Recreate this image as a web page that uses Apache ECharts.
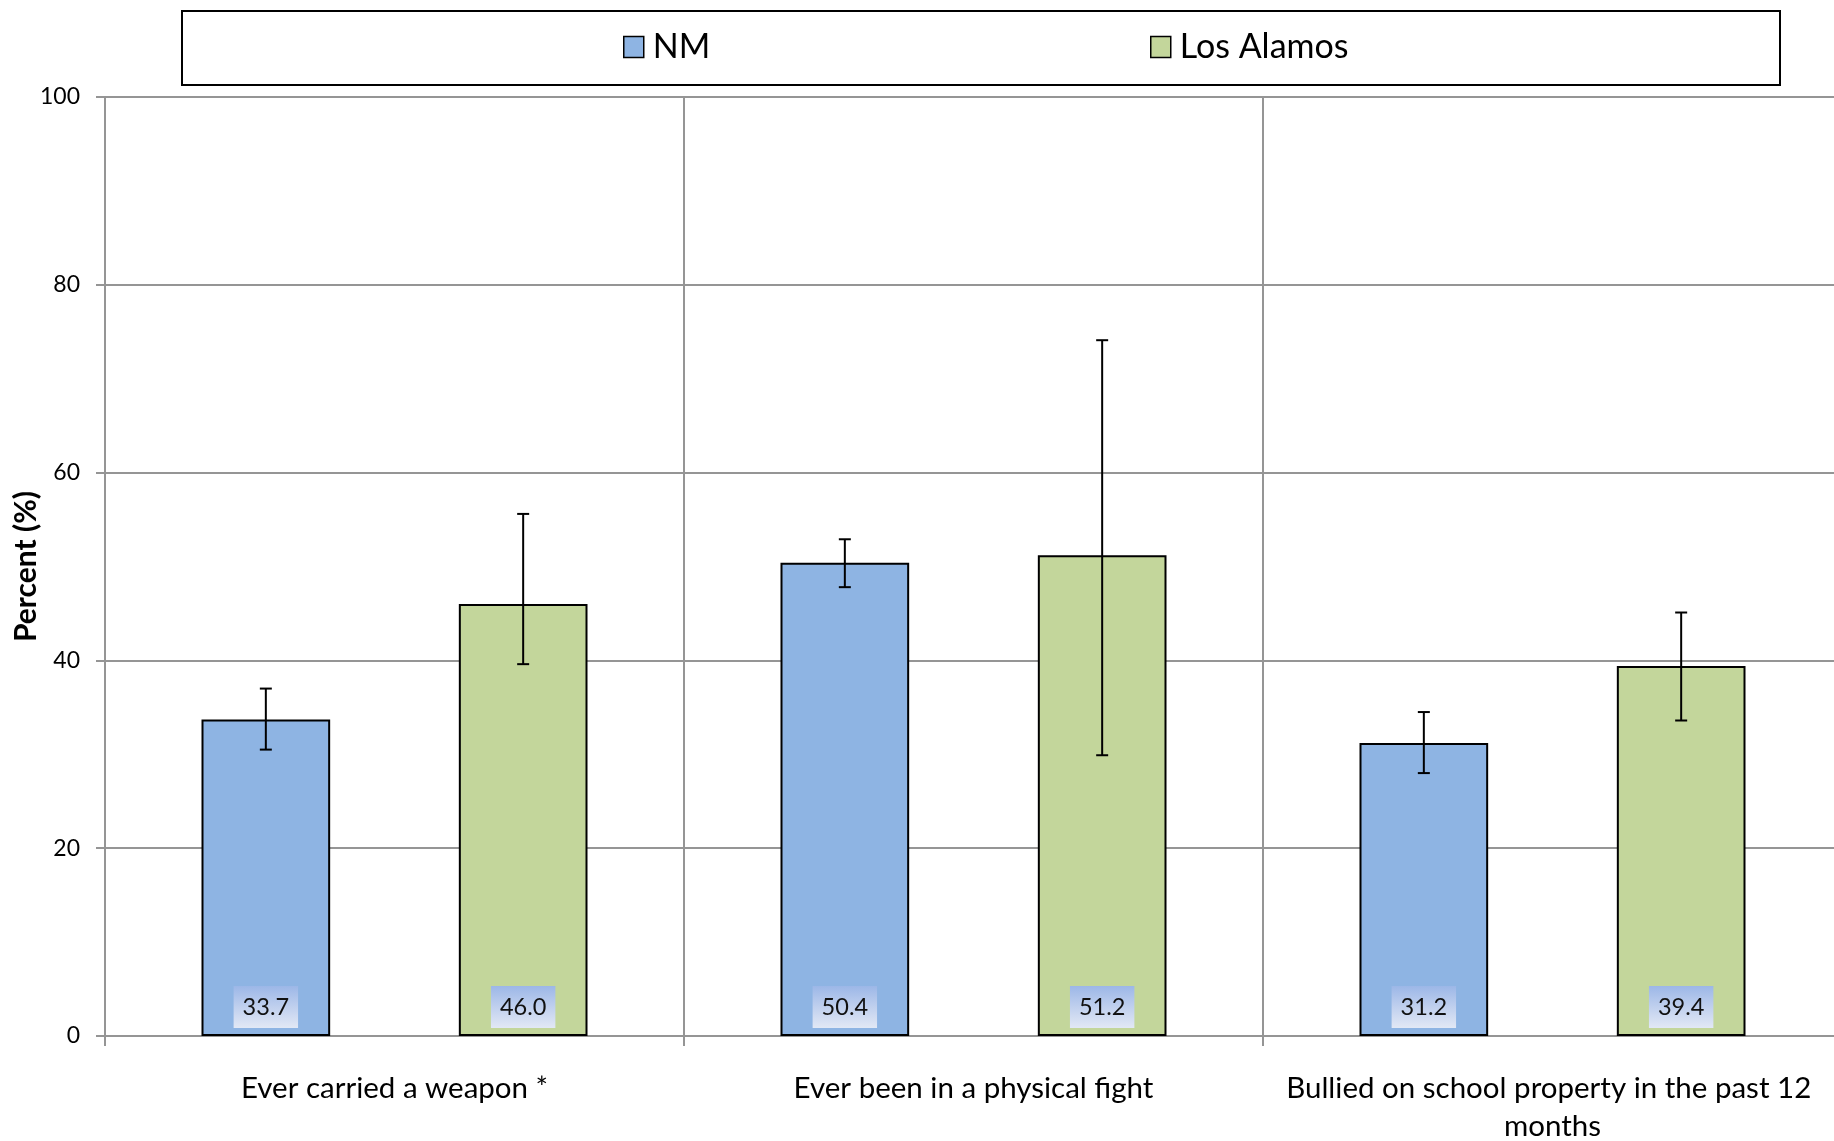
<!DOCTYPE html>
<html>
<head>
<meta charset="utf-8">
<script src="https://cdn.jsdelivr.net/npm/echarts@6/dist/echarts.min.js"></script>
<style>
  html, body { margin: 0; padding: 0; background: #fff; }
  #chart { width: 1834px; height: 1141px; }
</style>
</head>
<body>
<div id="chart"></div>
<script>
const categories = ['Ever carried a weapon *', 'Ever been in a physical fight', 'Bullied on school property in the past 12 months'];
const seriesNames = ['NM', 'Los Alamos'];
const nmValues = [33.7, 50.4, 31.2];
const laValues = [46.0, 51.2, 39.4];
const nmLow = [30.5, 47.8, 28.0];
const nmHigh = [37.0, 52.9, 34.5];
const laLow = [39.6, 29.9, 33.6];
const laHigh = [55.6, 74.1, 45.1];
const yTicks = [0, 20, 40, 60, 80, 100];

const FONT = 'Lato';
const GRID = '#959595';
const BAR_FRAC = 2 / 9;

const chart = echarts.init(document.getElementById('chart'), null, { renderer: 'canvas' });

const labelBg = new echarts.graphic.LinearGradient(0, 0, 0, 1, [
  { offset: 0, color: '#9cb7e7' },
  { offset: 0.5, color: '#c0d0ee' },
  { offset: 1, color: '#e2e8f5' }
]);

function dataLabel() {
  return {
    show: true,
    position: 'insideBottom',
    distance: 8,
    formatter: p => p.value.toFixed(1),
    fontFamily: FONT,
    fontSize: 23.5,
    color: '#111',
    lineHeight: 22,
    padding: [10, 9, 10, 9],
    backgroundColor: labelBg
  };
}

function errorSeries(low, high, sign) {
  return {
    type: 'custom',
    z: 10,
    silent: true,
    data: low.map((l, i) => [i, l, high[i]]),
    renderItem: function (params, api) {
      const idx = api.value(0);
      const lo = api.coord([idx, api.value(1)]);
      const hi = api.coord([idx, api.value(2)]);
      const band = api.size([1, 0])[0];
      const x = lo[0] + sign * band * BAR_FRAC;
      const cap = 6;
      const style = { stroke: '#000', lineWidth: 2 };
      return {
        type: 'group',
        children: [
          { type: 'line', shape: { x1: x, y1: lo[1], x2: x, y2: hi[1] }, style },
          { type: 'line', shape: { x1: x - cap, y1: lo[1], x2: x + cap, y2: lo[1] }, style },
          { type: 'line', shape: { x1: x - cap, y1: hi[1], x2: x + cap, y2: hi[1] }, style }
        ]
      };
    }
  };
}

const legendCommon = {
  top: 30,
  padding: 0,
  icon: 'rect',
  itemWidth: 20,
  itemHeight: 21,
  itemStyle: { borderColor: '#000', borderWidth: 1.5 },
  textStyle: { fontFamily: FONT, fontSize: 34, color: '#000', padding: [0, 0, 0, 4] },
  selectedMode: false
};

chart.setOption({
  animation: false,
  backgroundColor: '#fff',
  graphic: [{
    type: 'rect',
    left: 181, top: 10,
    shape: { width: 1598, height: 74 },
    style: { fill: '#fff', stroke: '#000', lineWidth: 2 },
    z: -1
  }],
  legend: [
    Object.assign({}, legendCommon, { left: 623, data: [seriesNames[0]] }),
    Object.assign({}, legendCommon, { left: 1150, data: [seriesNames[1]] })
  ],
  grid: { left: 105, top: 97, bottom: 105, right: -8, containLabel: false, outerBoundsMode: 'none' },
  xAxis: {
    type: 'category',
    data: categories,
    axisLine: { show: true, lineStyle: { color: GRID, width: 2 } },
    axisTick: { show: true, length: 10, lineStyle: { color: GRID, width: 2 } },
    splitLine: { show: true, lineStyle: { color: GRID, width: 2 } },
    axisLabel: {
      margin: 33,
      fontFamily: FONT,
      fontSize: 29.5,
      lineHeight: 38,
      color: '#000',
      width: 555,
      overflow: 'break',
      interval: 0
    }
  },
  yAxis: {
    type: 'value',
    min: 0,
    max: 100,
    interval: 20,
    name: 'Percent (%)',
    nameLocation: 'middle',
    nameGap: 64,
    nameRotate: 90,
    nameMoveOverlap: false,
    nameTextStyle: { fontFamily: FONT, fontSize: 30, fontWeight: 'bold', color: '#000' },
    axisLine: { show: true, lineStyle: { color: GRID, width: 2 } },
    axisTick: { show: true, length: 9, lineStyle: { color: GRID, width: 2 } },
    splitLine: { show: true, lineStyle: { color: GRID, width: 2 } },
    axisLabel: {
      margin: 25,
      fontFamily: FONT,
      fontSize: 23,
      color: '#000',
      formatter: v => (yTicks.indexOf(v) >= 0 ? String(v) : '')
    }
  },
  series: [
    {
      name: seriesNames[0],
      type: 'bar',
      data: nmValues,
      barWidth: (BAR_FRAC * 100) + '%',
      barGap: '100%',
      itemStyle: { color: '#8eb4e3', borderColor: '#000', borderWidth: 2 },
      label: dataLabel()
    },
    {
      name: seriesNames[1],
      type: 'bar',
      data: laValues,
      barWidth: (BAR_FRAC * 100) + '%',
      barGap: '100%',
      itemStyle: { color: '#c3d69b', borderColor: '#000', borderWidth: 2 },
      label: dataLabel()
    },
    errorSeries(nmLow, nmHigh, -1),
    errorSeries(laLow, laHigh, 1)
  ]
});
</script>
</body>
</html>
